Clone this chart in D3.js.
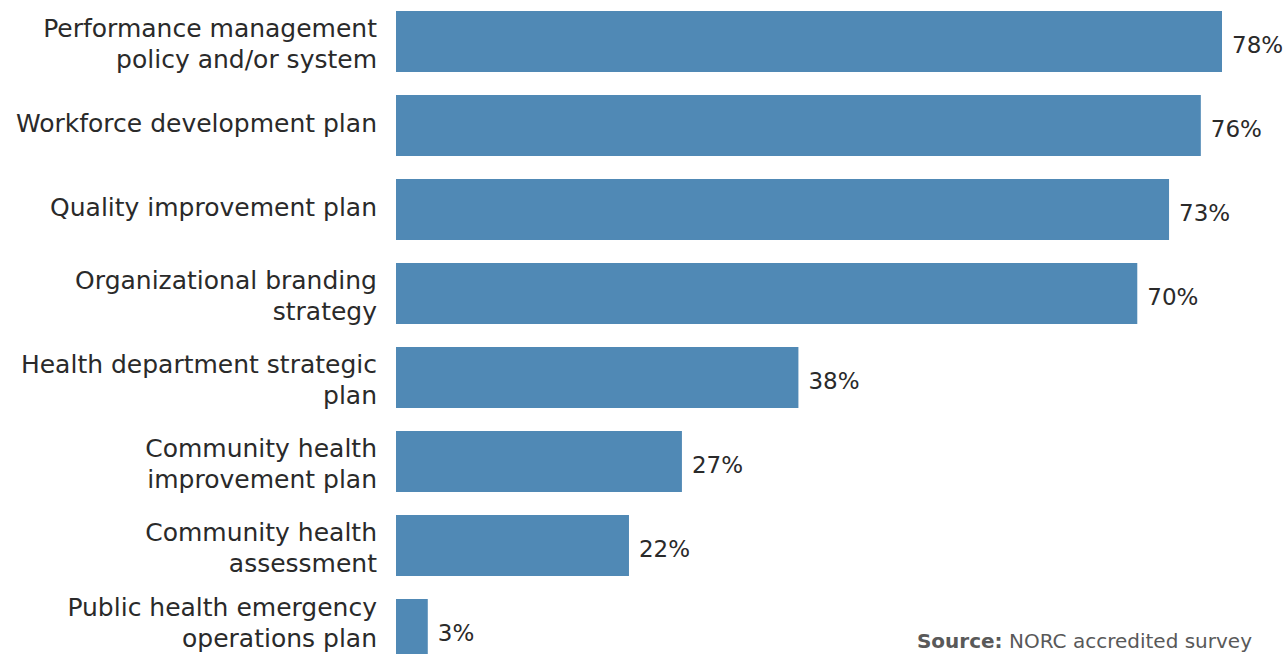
<!DOCTYPE html>
<html>
<head>
<meta charset="utf-8">
<script src="https://cdn.jsdelivr.net/npm/d3@7"></script>
<style>
  html, body { margin: 0; padding: 0; background: #fff; }
  svg { display: block; }
  text { font-family: "DejaVu Sans", "Open Sans", sans-serif; }
</style>
</head>
<body>
<svg id="chart" width="1283" height="654"></svg>
<script>
// Plan categories (each entry split into display lines)
const categories = [
  ["Performance management", "policy and/or system"],
  ["Workforce development plan"],
  ["Quality improvement plan"],
  ["Organizational branding", "strategy"],
  ["Health department strategic", "plan"],
  ["Community health", "improvement plan"],
  ["Community health", "assessment"],
  ["Public health emergency", "operations plan"]
];
// Share of agencies (%)
const values = [78, 76, 73, 70, 38, 27, 22, 3];
const sourceLabel = "Source:";
const sourceText = " NORC accredited survey";

const svg = d3.select("#chart");
const W = 1283, H = 654;
const barLeft = 396;

const keys = categories.map(c => c.join(" "));

const x = d3.scaleLinear().domain([0, 78]).range([barLeft, 1222]);
const y = d3.scaleBand()
  .domain(keys)
  .range([-0.5, 671.5])
  .paddingInner(0.274)
  .paddingOuter(0.137);

const rows = svg.append("g").selectAll("g")
  .data(keys.map((k, i) => ({ key: k, lines: categories[i], v: values[i] })))
  .join("g");

rows.append("rect")
  .attr("x", x(0))
  .attr("y", d => y(d.key))
  .attr("width", d => x(d.v) - x(0))
  .attr("height", y.bandwidth())
  .attr("fill", "#5089b5");

// Category labels, right-aligned against the bars
const labelSize = 25;
const lineH = 31;
rows.append("text")
  .attr("text-anchor", "end")
  .attr("font-size", labelSize)
  .attr("fill", "#2a2a2a")
  .each(function (d) {
    const t = d3.select(this);
    const cy = y(d.key) + y.bandwidth() / 2;
    const n = d.lines.length;
    // baseline of the first line
    let base = n === 1 ? cy + 6 : cy - 5;
    // keep the final line's body inside the canvas
    const lastBase = base + (n - 1) * lineH;
    if (lastBase > H - 7) base -= lastBase - (H - 7);
    d.lines.forEach((ln, j) => {
      t.append("tspan")
        .attr("x", 377)
        .attr("y", base + j * lineH)
        .text(ln);
    });
  });

// Value labels at bar ends
rows.append("text")
  .attr("x", d => x(d.v) + 10)
  .attr("y", d => y(d.key) + y.bandwidth() / 2 + 11)
  .attr("font-size", 23)
  .attr("fill", "#2a2a2a")
  .text(d => d.v + "%");

// Source note
const src = svg.append("text")
  .attr("x", 1252)
  .attr("y", 648)
  .attr("text-anchor", "end")
  .attr("font-size", 20)
  .attr("fill", "#595959");
src.append("tspan").attr("font-weight", "bold").text(sourceLabel);
src.append("tspan").text(sourceText);
</script>
</body>
</html>
